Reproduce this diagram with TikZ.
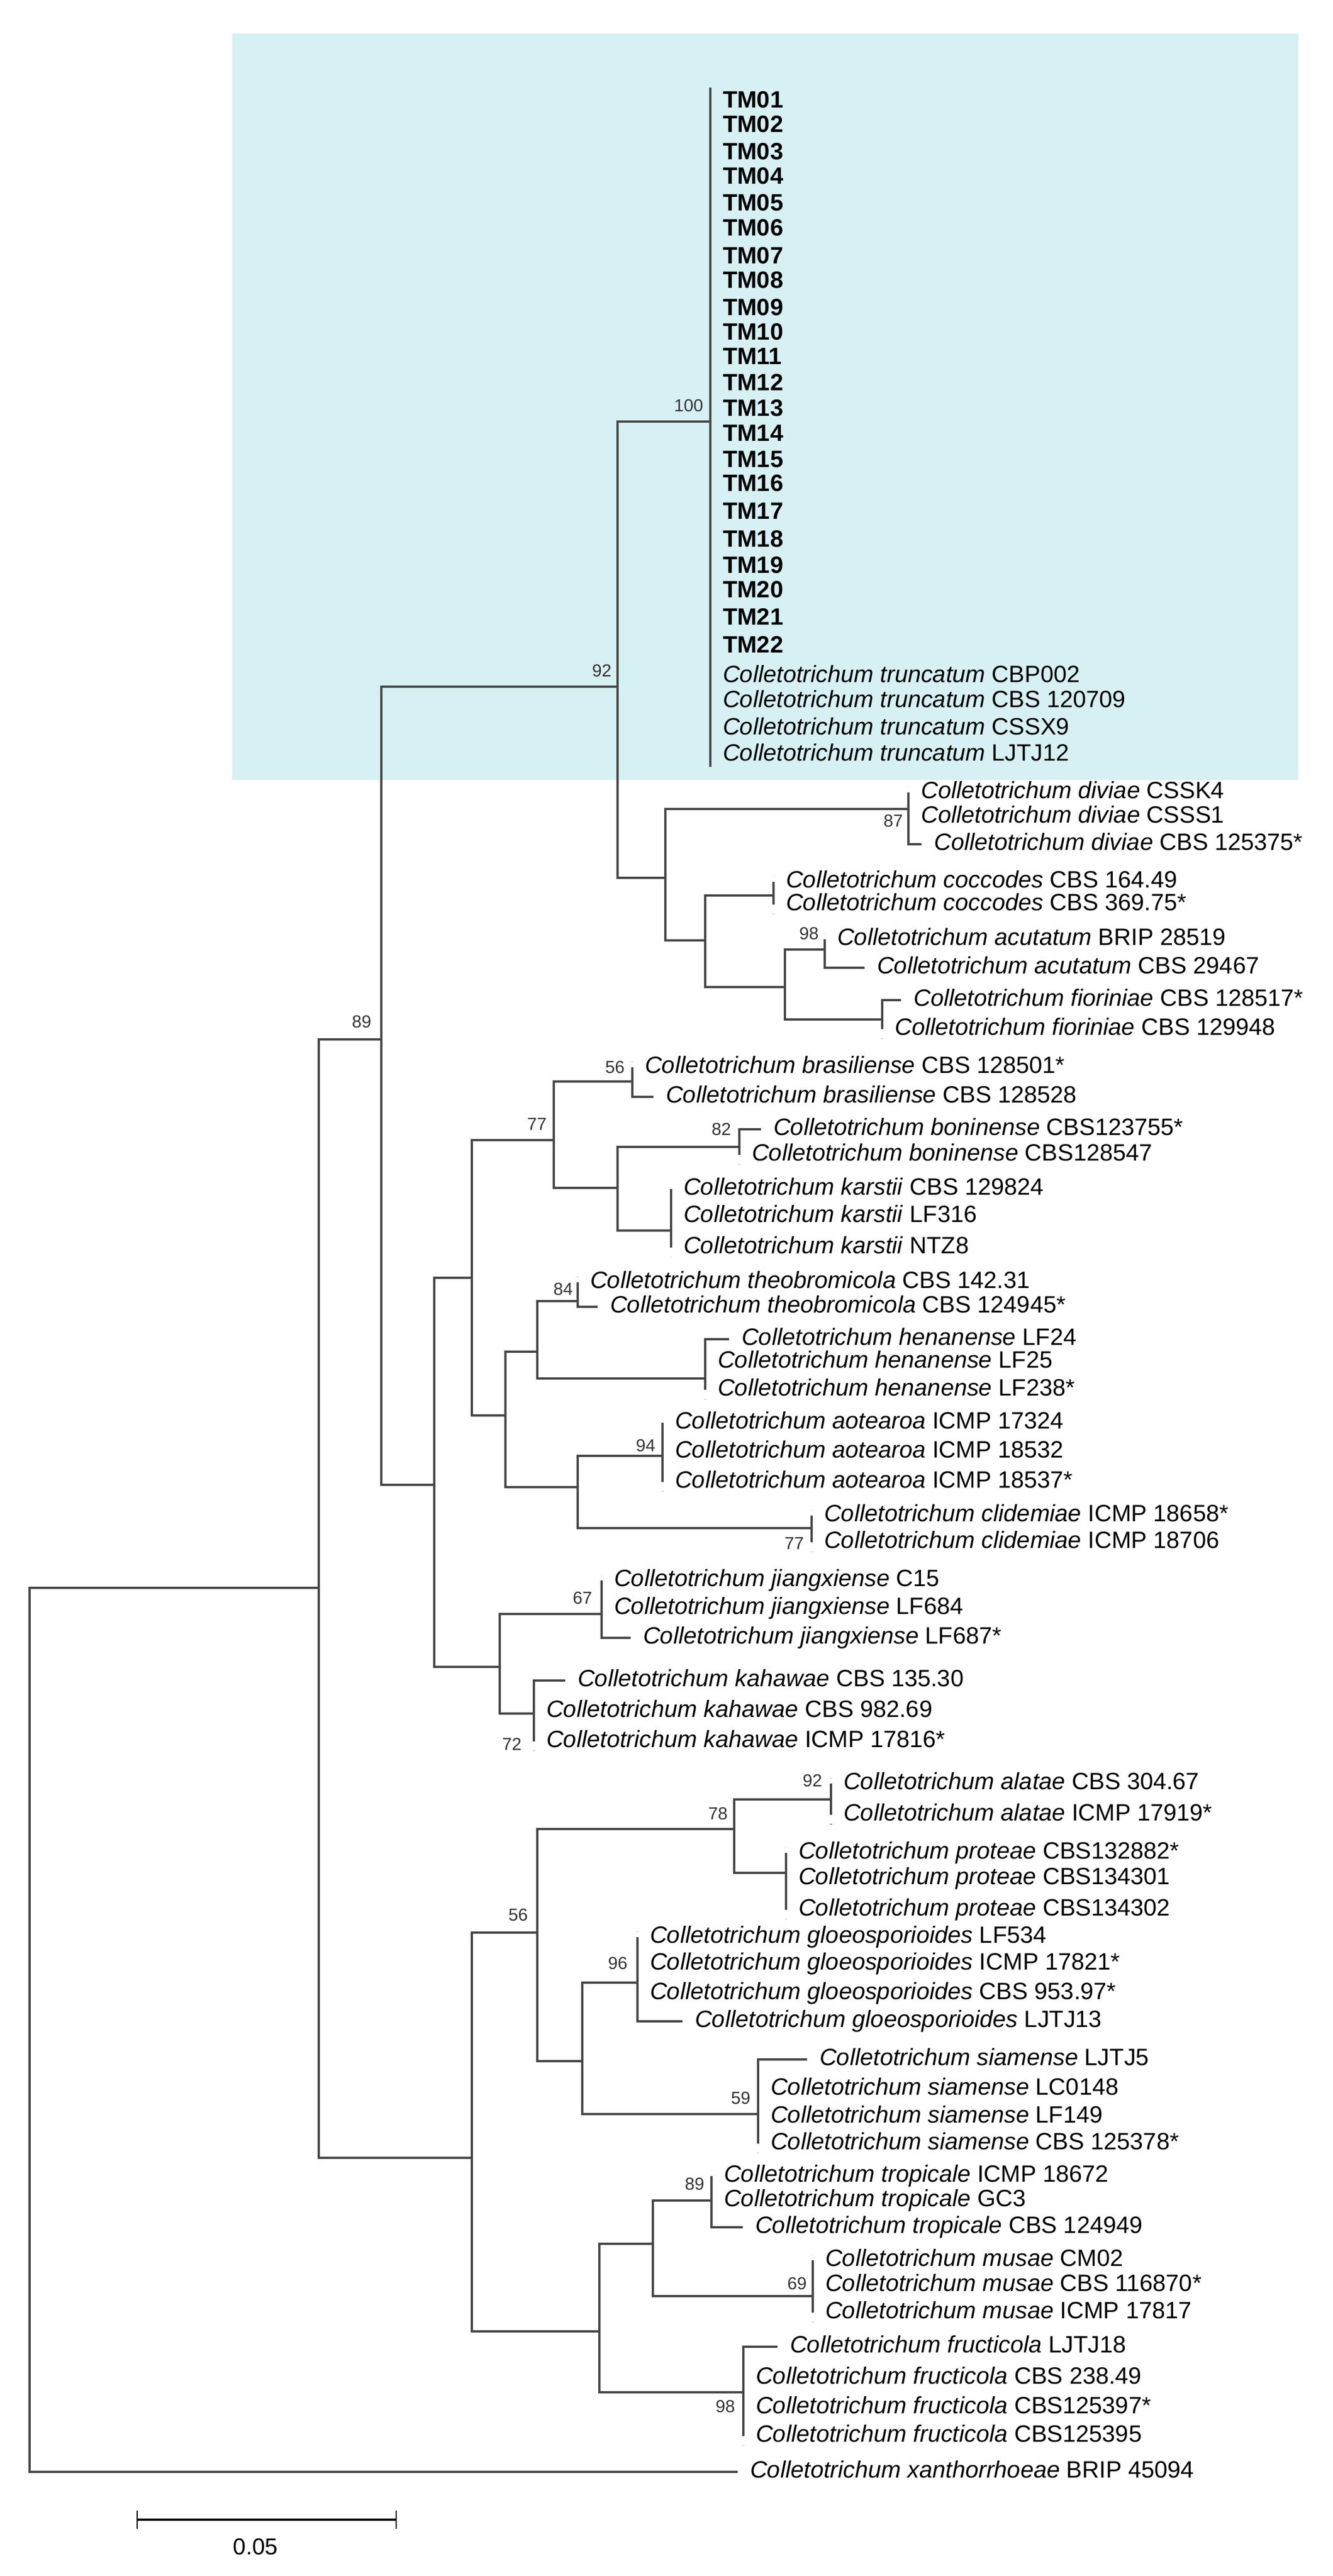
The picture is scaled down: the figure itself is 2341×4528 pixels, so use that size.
\documentclass[tikz,border=0pt]{standalone}
\usepackage{fontspec}
\setmainfont{Liberation Sans}
\usepackage{xcolor}
\usetikzlibrary{positioning}
\definecolor{cladebg}{RGB}{214,240,243}
\definecolor{branchgray}{RGB}{70,70,70}
\newcommand{\coll}[1]{\textit{Colletotrichum #1}}

\begin{document}
\begin{tikzpicture}[x=0.01cm,y=-0.01cm,
	every edge/.style={branch, to path={|- (\tikztotarget)}}]
	\tikzstyle{branch}=[draw=branchgray, line width=1pt]
	\tikzstyle{tipup}=[to path={|- (\tikztotarget) -- ([yshift=0.1cm]\tikztotarget.west)}]
	\tikzstyle{tipdn}=[to path={|- (\tikztotarget) -- ([yshift=-0.16cm]\tikztotarget.west)}]
	\tikzstyle{taxon}=[anchor=west, inner xsep=0.22cm, inner ysep=0pt, outer sep=0pt,
		text height=0.30cm, text depth=0.09cm, font=\fontsize{11.8}{13}\selectfont]
	\tikzstyle{boot}=[inner sep=0pt, text=black!80, font=\fontsize{8.7}{9}\selectfont]

	\useasboundingbox (0,0) rectangle (2341,4528);
	\fill[cladebg] (408,59) rectangle (2281,1371);

	% internal nodes
	\coordinate (root) at (52,3568);
	\coordinate (nA) at (560,2791);
	\coordinate (n89) at (670,1827);
	\coordinate (n92) at (1085,1207);
	\coordinate (n100) at (1248,741);
	\coordinate (nC) at (1169,1543);
	\coordinate (n87) at (1596,1422);
	\coordinate (nD) at (1239,1653);
	\coordinate (nCocc) at (1359,1574);
	\coordinate (nE) at (1379,1735);
	\coordinate (n98a) at (1449,1669);
	\coordinate (nFior) at (1550,1792);
	\coordinate (nB) at (763,2610);
	\coordinate (nF) at (829,2246);
	\coordinate (n77) at (973,2004);
	\coordinate (n56a) at (1111,1901);
	\coordinate (nH) at (1085,2088);
	\coordinate (n82) at (1299,2016);
	\coordinate (nKar) at (1179,2163);
	\coordinate (nG) at (888,2488);
	\coordinate (nI) at (944,2376);
	\coordinate (n84) at (1015,2287);
	\coordinate (nHen) at (1239,2423);
	\coordinate (nK) at (1015,2614);
	\coordinate (n94) at (1164,2559);
	\coordinate (nCli) at (1426,2686);
	\coordinate (nJK) at (878,2930);
	\coordinate (n67) at (1057,2837);
	\coordinate (n72) at (938,3012);
	\coordinate (nL) at (829,3793);
	\coordinate (n56b) at (944,3397);
	\coordinate (n78) at (1290,3215);
	\coordinate (n92b) at (1460,3163);
	\coordinate (nProt) at (1381,3292);
	\coordinate (nN) at (1023,3623);
	\coordinate (n96) at (1120,3485);
	\coordinate (n59) at (1332,3716);
	\coordinate (nM) at (1053,4098);
	\coordinate (nO) at (1147,3944);
	\coordinate (n89b) at (1250,3868);
	\coordinate (n69) at (1428,4036);
	\coordinate (n98b) at (1306,4205);
	\coordinate (tmTop) at (1248,154);
	\coordinate (tmBot) at (1248,1348);

	% leaves
	\node[taxon] (tm01) at (1248,179) {\textbf{TM01}};
	\node[taxon] (tm02) at (1248,222) {\textbf{TM02}};
	\node[taxon] (tm03) at (1248,270) {\textbf{TM03}};
	\node[taxon] (tm04) at (1248,313) {\textbf{TM04}};
	\node[taxon] (tm05) at (1248,360) {\textbf{TM05}};
	\node[taxon] (tm06) at (1248,404) {\textbf{TM06}};
	\node[taxon] (tm07) at (1248,453) {\textbf{TM07}};
	\node[taxon] (tm08) at (1248,496) {\textbf{TM08}};
	\node[taxon] (tm09) at (1248,544) {\textbf{TM09}};
	\node[taxon] (tm10) at (1248,587) {\textbf{TM10}};
	\node[taxon] (tm11) at (1248,630) {\textbf{TM11}};
	\node[taxon] (tm12) at (1248,676) {\textbf{TM12}};
	\node[taxon] (tm13) at (1248,721) {\textbf{TM13}};
	\node[taxon] (tm14) at (1248,765) {\textbf{TM14}};
	\node[taxon] (tm15) at (1248,811) {\textbf{TM15}};
	\node[taxon] (tm16) at (1248,853) {\textbf{TM16}};
	\node[taxon] (tm17) at (1248,902) {\textbf{TM17}};
	\node[taxon] (tm18) at (1248,951) {\textbf{TM18}};
	\node[taxon] (tm19) at (1248,997) {\textbf{TM19}};
	\node[taxon] (tm20) at (1248,1040) {\textbf{TM20}};
	\node[taxon] (tm21) at (1248,1088) {\textbf{TM21}};
	\node[taxon] (tm22) at (1248,1137) {\textbf{TM22}};
	\node[taxon] (ct1) at (1248,1189) {\coll{truncatum} CBP002};
	\node[taxon] (ct2) at (1248,1233) {\coll{truncatum} CBS 120709};
	\node[taxon] (ct3) at (1248,1281) {\coll{truncatum} CSSX9};
	\node[taxon] (ct4) at (1248,1327) {\coll{truncatum} LJTJ12};

	\node[taxon] (dv1) at (1596,1393) {\coll{diviae} CSSK4};
	\node[taxon] (dv2) at (1596,1436) {\coll{diviae} CSSS1};
	\node[taxon] (dv3) at (1619,1484) {\coll{diviae} CBS 125375*};
	\node[taxon] (cc1) at (1359,1550) {\coll{coccodes} CBS 164.49};
	\node[taxon] (cc2) at (1359,1590) {\coll{coccodes} CBS 369.75*};
	\node[taxon] (ac1) at (1449,1651) {\coll{acutatum} BRIP 28519};
	\node[taxon] (ac2) at (1519,1701) {\coll{acutatum} CBS 29467};
	\node[taxon] (fi1) at (1583,1758) {\coll{fioriniae} CBS 128517*};
	\node[taxon] (fi2) at (1550,1809) {\coll{fioriniae} CBS 129948};

	\node[taxon] (br1) at (1111,1876) {\coll{brasiliense} CBS 128501*};
	\node[taxon] (br2) at (1148,1928) {\coll{brasiliense} CBS 128528};
	\node[taxon] (bo1) at (1337,1985) {\coll{boninense} CBS123755*};
	\node[taxon] (bo2) at (1299,2030) {\coll{boninense} CBS128547};
	\node[taxon] (ka1) at (1179,2090) {\coll{karstii} CBS 129824};
	\node[taxon] (ka2) at (1179,2138) {\coll{karstii} LF316};
	\node[taxon] (ka3) at (1179,2193) {\coll{karstii} NTZ8};
	\node[taxon] (th1) at (1015,2254) {\coll{theobromicola} CBS 142.31};
	\node[taxon] (th2) at (1050,2297) {\coll{theobromicola} CBS 124945*};
	\node[taxon] (he1) at (1281,2354) {\coll{henanense} LF24};
	\node[taxon] (he2) at (1239,2394) {\coll{henanense} LF25};
	\node[taxon] (he3) at (1239,2443) {\coll{henanense} LF238*};
	\node[taxon] (ao1) at (1164,2501) {\coll{aotearoa} ICMP 17324};
	\node[taxon] (ao2) at (1164,2552) {\coll{aotearoa} ICMP 18532};
	\node[taxon] (ao3) at (1164,2605) {\coll{aotearoa} ICMP 18537*};
	\node[taxon] (cl1) at (1426,2664) {\coll{clidemiae} ICMP 18658*};
	\node[taxon] (cl2) at (1426,2711) {\coll{clidemiae} ICMP 18706};
	\node[taxon] (ji1) at (1057,2778) {\coll{jiangxiense} C15};
	\node[taxon] (ji2) at (1057,2827) {\coll{jiangxiense} LF684};
	\node[taxon] (ji3) at (1108,2879) {\coll{jiangxiense} LF687*};
	\node[taxon] (kh1) at (993,2954) {\coll{kahawae} CBS 135.30};
	\node[taxon] (kh2) at (938,3008) {\coll{kahawae} CBS 982.69};
	\node[taxon] (kh3) at (938,3061) {\coll{kahawae} ICMP 17816*};

	\node[taxon] (al1) at (1460,3135) {\coll{alatae} CBS 304.67};
	\node[taxon] (al2) at (1460,3190) {\coll{alatae} ICMP 17919*};
	\node[taxon] (pr1) at (1381,3257) {\coll{proteae} CBS132882*};
	\node[taxon] (pr2) at (1381,3302) {\coll{proteae} CBS134301};
	\node[taxon] (pr3) at (1381,3357) {\coll{proteae} CBS134302};
	\node[taxon] (gl1) at (1120,3405) {\coll{gloeosporioides} LF534};
	\node[taxon] (gl2) at (1120,3452) {\coll{gloeosporioides} ICMP 17821*};
	\node[taxon] (gl3) at (1120,3504) {\coll{gloeosporioides} CBS 953.97*};
	\node[taxon] (gl4) at (1199,3553) {\coll{gloeosporioides} LJTJ13};
	\node[taxon] (si1) at (1418,3620) {\coll{siamense} LJTJ5};
	\node[taxon] (si2) at (1332,3672) {\coll{siamense} LC0148};
	\node[taxon] (si3) at (1332,3721) {\coll{siamense} LF149};
	\node[taxon] (si4) at (1332,3768) {\coll{siamense} CBS 125378*};
	\node[taxon] (tr1) at (1250,3825) {\coll{tropicale} ICMP 18672};
	\node[taxon] (tr2) at (1250,3868) {\coll{tropicale} GC3};
	\node[taxon] (tr3) at (1305,3915) {\coll{tropicale} CBS 124949};
	\node[taxon] (mu1) at (1428,3973) {\coll{musae} CM02};
	\node[taxon] (mu2) at (1428,4017) {\coll{musae} CBS 116870*};
	\node[taxon] (mu3) at (1428,4065) {\coll{musae} ICMP 17817};
	\node[taxon] (fr1) at (1366,4125) {\coll{fructicola} LJTJ18};
	\node[taxon] (fr2) at (1306,4180) {\coll{fructicola} CBS 238.49};
	\node[taxon] (fr3) at (1306,4232) {\coll{fructicola} CBS125397*};
	\node[taxon] (fr4) at (1306,4282) {\coll{fructicola} CBS125395};
	\node[taxon] (xa) at (1296,4345) {\coll{xanthorrhoeae} BRIP 45094};

	% branches
	\path (root) edge (nA) edge (xa);
	\path (nA) edge (n89) edge (nL);
	\path (n89) edge (n92) edge (nB);
	\path (n92) edge (n100) edge (nC);
	\draw[branch] (tmTop) -- (tmBot);
	\path (n100) edge (tm01) edge (tm02) edge (tm03) edge (tm04) edge (tm05)
		edge (tm06) edge (tm07) edge (tm08) edge (tm09) edge (tm10) edge (tm11)
		edge (tm12) edge (tm13) edge (tm14) edge (tm15) edge (tm16) edge (tm17)
		edge (tm18) edge (tm19) edge (tm20) edge (tm21) edge (tm22)
		edge (ct1) edge (ct2) edge (ct3) edge (ct4);
	\path (nC) edge (n87) edge (nD);
	\path (n87) edge[tipup] (dv1) edge (dv2) edge (dv3);
	\path (nD) edge (nCocc) edge (nE);
	\path (nCocc) edge[tipup] (cc1) edge[tipdn] (cc2);
	\path (nE) edge (n98a) edge (nFior);
	\path (n98a) edge[tipup] (ac1) edge (ac2);
	\path (nFior) edge (fi1) edge[tipdn] (fi2);
	\path (nB) edge (nF) edge (nJK);
	\path (nF) edge (n77) edge (nG);
	\path (n77) edge (n56a) edge (nH);
	\path (n56a) edge[tipup] (br1) edge (br2);
	\path (nH) edge (n82) edge (nKar);
	\path (n82) edge (bo1) edge[tipdn] (bo2);
	\path (nKar) edge (ka1) edge (ka2) edge[tipdn] (ka3);
	\path (nG) edge (nI) edge (nK);
	\path (nI) edge (n84) edge (nHen);
	\path (n84) edge[tipup] (th1) edge (th2);
	\path (nHen) edge (he1) edge (he2) edge[tipdn] (he3);
	\path (nK) edge (n94) edge (nCli);
	\path (n94) edge[tipup] (ao1) edge (ao2) edge[tipdn] (ao3);
	\path (nCli) edge[tipup] (cl1) edge[tipdn] (cl2);
	\path (nJK) edge (n67) edge (n72);
	\path (n67) edge[tipup] (ji1) edge (ji2) edge (ji3);
	\path (n72) edge (kh1) edge (kh2) edge[tipdn] (kh3);
	\path (nL) edge (n56b) edge (nM);
	\path (n56b) edge (n78) edge (nN);
	\path (n78) edge (n92b) edge (nProt);
	\path (n92b) edge[tipup] (al1) edge[tipdn] (al2);
	\path (nProt) edge[tipup] (pr1) edge (pr2) edge[tipdn] (pr3);
	\path (nN) edge (n96) edge (n59);
	\path (n96) edge[tipup] (gl1) edge (gl2) edge (gl3) edge (gl4);
	\path (n59) edge (si1) edge (si2) edge (si3) edge[tipdn] (si4);
	\path (nM) edge (nO) edge (n98b);
	\path (nO) edge (n89b) edge (n69);
	\path (n89b) edge[tipup] (tr1) edge (tr2) edge (tr3);
	\path (n69) edge[tipup] (mu1) edge (mu2) edge[tipdn] (mu3);
	\path (n98b) edge (fr1) edge (fr2) edge (fr3) edge[tipdn] (fr4);

	% bootstrap values
	\node[boot, above left=0.16cm and 0.12cm of n100] (b100) {100};
	\node[boot, above left=0.16cm and 0.1cm of n92] (b92) {92};
	\node[boot, above left=0.2cm and 0.17cm of n89] (b89) {89};
	\node[boot, below left=0.09cm and 0.09cm of n87] (b87) {87};
	\node[boot, above left=0.17cm and 0.1cm of n98a] (b98a) {98};
	\node[boot, above left=0.14cm and 0.13cm of n56a] (b56a) {56};
	\node[boot, above left=0.17cm and 0.12cm of n77] (b77) {77};
	\node[boot, above left=0.2cm and 0.14cm of n82] (b82) {82};
	\node[boot, above left=0.1cm and 0.08cm of n84] (b84) {84};
	\node[boot, above left=0.07cm and 0.12cm of n94] (b94) {94};
	\node[boot, below left=0.16cm and 0.13cm of nCli] (b77b) {77};
	\node[boot, above left=0.17cm and 0.16cm of n67] (b67) {67};
	\node[boot, below left=0.42cm and 0.21cm of n72] (b72) {72};
	\node[boot, above left=0.22cm and 0.15cm of n92b] (b92b) {92};
	\node[boot, above left=0.16cm and 0.11cm of n78] (b78) {78};
	\node[boot, above left=0.2cm and 0.16cm of n56b] (b56b) {56};
	\node[boot, above left=0.23cm and 0.17cm of n96] (b96) {96};
	\node[boot, above left=0.17cm and 0.13cm of n59] (b59) {59};
	\node[boot, above left=0.18cm and 0.12cm of n89b] (b89b) {89};
	\node[boot, above left=0.11cm and 0.1cm of n69] (b69) {69};
	\node[boot, below left=0.13cm and 0.14cm of n98b] (b98b) {98};

	% scale bar
	\coordinate (barL) at (241,4429);
	\coordinate (barR) at (696,4429);
	\draw[line width=1pt] (barL) -- (barR);
	\draw[line width=0.6pt] ([yshift=0.16cm]barL) -- ([yshift=-0.16cm]barL);
	\draw[line width=0.6pt] ([yshift=0.16cm]barR) -- ([yshift=-0.16cm]barR);
	\node[font=\fontsize{11.5}{13}\selectfont] (barText) at (449,4477) {0.05};
\end{tikzpicture}
\end{document}
